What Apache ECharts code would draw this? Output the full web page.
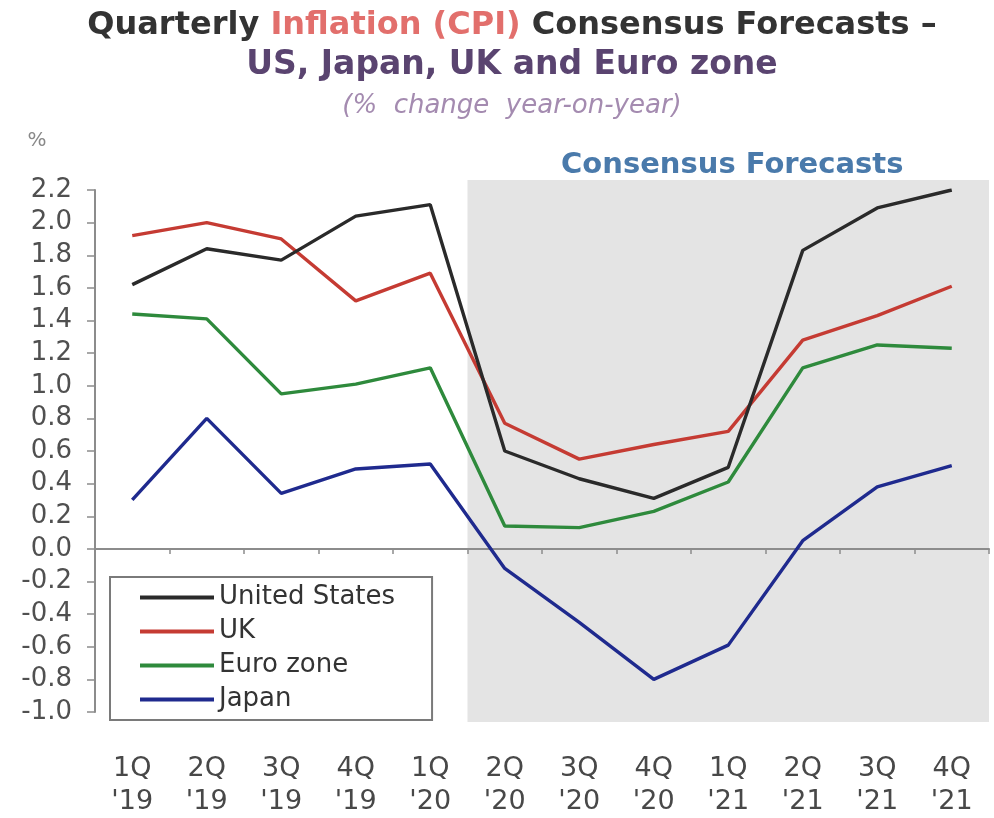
<!DOCTYPE html>
<html>
<head>
<meta charset="utf-8">
<script src="https://cdn.jsdelivr.net/npm/echarts@6/dist/echarts.min.js"></script>
<style>
html,body{margin:0;padding:0;background:#fff;}
#chart{width:994px;height:818px;}
</style>
</head>
<body>
<div id="chart"></div>
<script>
var categories = ["1Q\n'19","2Q\n'19","3Q\n'19","4Q\n'19","1Q\n'20","2Q\n'20","3Q\n'20","4Q\n'20","1Q\n'21","2Q\n'21","3Q\n'21","4Q\n'21"];
var unitedStates = [1.62, 1.84, 1.77, 2.04, 2.11, 0.60, 0.43, 0.31, 0.50, 1.83, 2.09, 2.20];
var uk = [1.92, 2.00, 1.90, 1.52, 1.69, 0.77, 0.55, 0.64, 0.72, 1.28, 1.43, 1.61];
var euroZone = [1.44, 1.41, 0.95, 1.01, 1.11, 0.14, 0.13, 0.23, 0.41, 1.11, 1.25, 1.23];
var japan = [0.30, 0.80, 0.34, 0.49, 0.52, -0.12, -0.45, -0.80, -0.59, 0.05, 0.38, 0.51];
var seriesNames = ['United States', 'UK', 'Euro zone', 'Japan'];
var forecastBand = [4.5, 11.5]; // from the 2Q '20 band to the end of 4Q '21
var forecastLabel = 'Consensus Forecasts';

var FONT = 'DejaVu Sans';
var chart = echarts.init(document.getElementById('chart'), null, {renderer: 'canvas'});

function lineSeries(name, data, color) {
  return {
    name: name, type: 'line', data: data, xAxisIndex: 0, yAxisIndex: 0,
    showSymbol: false, symbol: 'none', z: 3,
    lineStyle: {color: color, width: 3.4}, itemStyle: {color: color}
  };
}

var option = {
  animation: false,
  backgroundColor: '#ffffff',
  graphic: [
    {type: 'text', x: 512, y: 26, z: 10, style: {
      text: '{a|Quarterly }{b|Inflation (CPI)}{a| Consensus Forecasts \u2013}',
      textAlign: 'center', textVerticalAlign: 'middle',
      rich: {
        a: {fontFamily: FONT, fontWeight: 'bold', fontSize: 32, fill: '#333333', color: '#333333'},
        b: {fontFamily: FONT, fontWeight: 'bold', fontSize: 32, fill: '#e26f6c', color: '#e26f6c'}
      }
    }},
    {type: 'text', x: 512, y: 65, z: 10, style: {
      text: 'US, Japan, UK and Euro zone', textAlign: 'center', textVerticalAlign: 'middle',
      font: 'bold 33px "DejaVu Sans"', fill: '#5a4470'
    }},
    {type: 'text', x: 512, y: 106, z: 10, style: {
      text: '(%  change  year-on-year)', textAlign: 'center', textVerticalAlign: 'middle',
      font: 'italic 26px "DejaVu Sans"', fill: '#a48bb0'
    }},
    {type: 'text', x: 37, y: 141, z: 10, style: {
      text: '%', textAlign: 'center', textVerticalAlign: 'middle',
      font: '20px "DejaVu Sans"', fill: '#888888'
    }}
  ],
  legend: {
    data: seriesNames, orient: 'vertical', left: 110, top: 577,
    padding: [7, 37, 7, 30], itemGap: 7, itemWidth: 74, itemHeight: 4, icon: 'rect',
    backgroundColor: '#ffffff', borderColor: '#7a7a7a', borderWidth: 2, borderRadius: 0,
    textStyle: {fontFamily: FONT, fontSize: 26, lineHeight: 27, color: '#333333'}
  },
  grid: [
    {left: 95, right: 5, top: 190, bottom: 103},
    {left: 95, right: 5, top: 180, bottom: 96}
  ],
  xAxis: [
    {type: 'category', gridIndex: 0, data: categories, boundaryGap: true, position: 'bottom', z: 2,
      axisLine: {show: false, onZero: false}, axisTick: {show: false},
      axisLabel: {margin: 40, fontFamily: FONT, fontSize: 27, lineHeight: 33, color: '#484848', interval: 0},
      splitLine: {show: false}},
    {type: 'category', gridIndex: 0, data: categories, boundaryGap: true, position: 'bottom', z: 2,
      axisLine: {show: true, onZero: true, lineStyle: {color: '#8c8c8c', width: 2}},
      axisTick: {show: true, length: 5, lineStyle: {color: '#8c8c8c', width: 1.5}},
      axisLabel: {show: false}, splitLine: {show: false}},
    {type: 'value', gridIndex: 1, min: -0.5, max: 11.5, show: false, splitLine: {show: false}}
  ],
  yAxis: [
    {type: 'value', gridIndex: 0, min: -1, max: 2.2, interval: 0.2, z: 2,
      axisLine: {show: true, lineStyle: {color: '#8c8c8c', width: 2}},
      axisTick: {show: true, length: 8, lineStyle: {color: '#8c8c8c', width: 1.5}},
      axisLabel: {margin: 23, fontFamily: FONT, fontSize: 26, color: '#505050',
        formatter: function (v) { return Math.abs(v) < 1e-9 ? '0.0' : v.toFixed(1); }},
      splitLine: {show: false}},
    {type: 'value', gridIndex: 1, min: 0, max: 1, show: false, splitLine: {show: false}}
  ],
  series: [
    {type: 'line', xAxisIndex: 2, yAxisIndex: 1, data: [], z: 1, silent: true,
      markArea: {silent: true, z: 1,
        itemStyle: {color: '#e4e4e4'},
        label: {show: true, position: 'top', distance: 0, formatter: forecastLabel,
          fontFamily: FONT, fontWeight: 'bold', fontSize: 29, color: '#4a7aab', offset: [4, 0]},
        data: [[{xAxis: forecastBand[0]}, {xAxis: forecastBand[1]}]]
      }},
    lineSeries('Japan', japan, '#1f2a8e'),
    lineSeries('Euro zone', euroZone, '#2e8a3c'),
    lineSeries('UK', uk, '#c53b33'),
    lineSeries('United States', unitedStates, '#2a2a2a')
  ]
};
chart.setOption(option);
</script>
</body>
</html>
